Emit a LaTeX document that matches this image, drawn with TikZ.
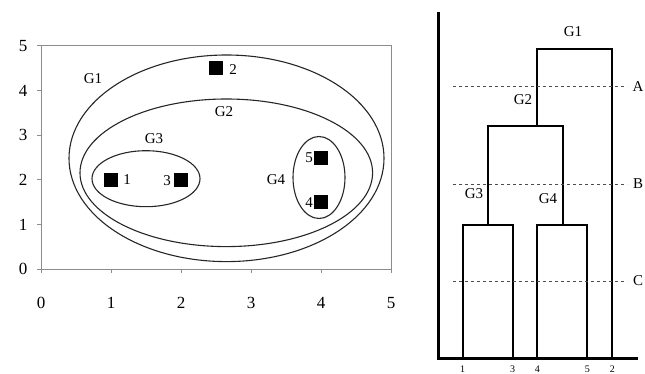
\documentclass[tikz,border=0pt]{standalone}
\usepackage{fontspec}
\setmainfont{Liberation Serif}
\begin{document}
\begin{tikzpicture}[x=1pt,y=-1pt,
  lbl/.style={font=\fontsize{15}{15}\selectfont, inner sep=0pt},
  tick/.style={font=\fontsize{17}{17}\selectfont, inner sep=0pt},
  leaf/.style={font=\fontsize{10}{10}\selectfont, inner sep=0pt},
  pt/.style={fill=black, draw=none, minimum size=14pt, inner sep=0pt},
  ring/.style={draw=black!85, line width=1.1pt},
  axisg/.style={draw=black!45, line width=1pt},
  dendro/.style={line width=2pt, line cap=rect},
  cut/.style={dashed, line width=0.9pt, draw=black!70}]
\useasboundingbox (0,0) rectangle (645,374);
% ---------- left plot ----------
\draw[axisg] (41,46) rectangle (391,269);
\foreach \i in {0,...,5}{
  \draw[axisg] (41+70*\i,269) -- (41+70*\i,273);
  \node[tick] at (41+70*\i,303) {\i};
  \draw[axisg] (37,269-44.6*\i) -- (41,269-44.6*\i);
  \node[tick] at (23,269-44.6*\i) {\i};
}
\draw[ring] (226.5,158.3) ellipse [x radius=157.5, y radius=103.3];
\draw[ring] (226.3,172.8) ellipse [x radius=146.3, y radius=73.8];
\draw[ring] (146,178.7) ellipse [x radius=54, y radius=28];
\draw[ring] (319,177.5) ellipse [x radius=26, y radius=41];
\node[pt] (p1) at (111,180) {};
\node[pt] (p2) at (216,68) {};
\node[pt] (p3) at (181,180) {};
\node[pt] (p4) at (321,202.5) {};
\node[pt] (p5) at (321,158) {};
\node[lbl] at (127,180) {1};
\node[lbl] at (233,70) {2};
\node[lbl] at (167,181) {3};
\node[lbl] at (309,203) {4};
\node[lbl] at (309,158) {5};
\node[lbl] at (93,79) {G1};
\node[lbl] at (224,112) {G2};
\node[lbl] at (154,139) {G3};
\node[lbl] at (276,180) {G4};
% ---------- dendrogram ----------
\coordinate (o) at (438,358);
\coordinate (ytop) at (438,12);
\coordinate (xend) at (638,358);
\draw[line width=3pt] (ytop) -- (o) -- (xend);
\coordinate (l1) at (462.7,358);
\coordinate (l3) at (512.7,358);
\coordinate (l4) at (537.3,358);
\coordinate (l5) at (587.3,358);
\coordinate (l2) at (612.3,358);
\coordinate (g3) at (487.7,225);
\coordinate (g4) at (562.7,225);
\coordinate (g2) at (537.3,126);
\coordinate (g1) at (574.8,49.3);
\draw[dendro] (l1) |- (g3) -| (l3);
\draw[dendro] (l4) |- (g4) -| (l5);
\draw[dendro] (g3) -- (487.7,126) -| (g4);
\draw[dendro] (g2) -- (537.3,49.3) -| (l2);
\foreach \n/\x in {1/462.7,3/512.7,4/537.3,5/587.3,2/612.3}
  \node[leaf] at (\x,369) {\n};
\draw[cut] (453,86.7) -- (627,86.7);
\draw[cut] (453,184) -- (627,184);
\draw[cut] (453,281) -- (627,281);
\node[lbl] at (638,87) {A};
\node[lbl] at (638,184) {B};
\node[lbl] at (638,281) {C};
\node[lbl] at (573,32) {G1};
\node[lbl] at (523,100) {G2};
\node[lbl] at (474,194) {G3};
\node[lbl] at (548,199) {G4};
\end{tikzpicture}
\end{document}
